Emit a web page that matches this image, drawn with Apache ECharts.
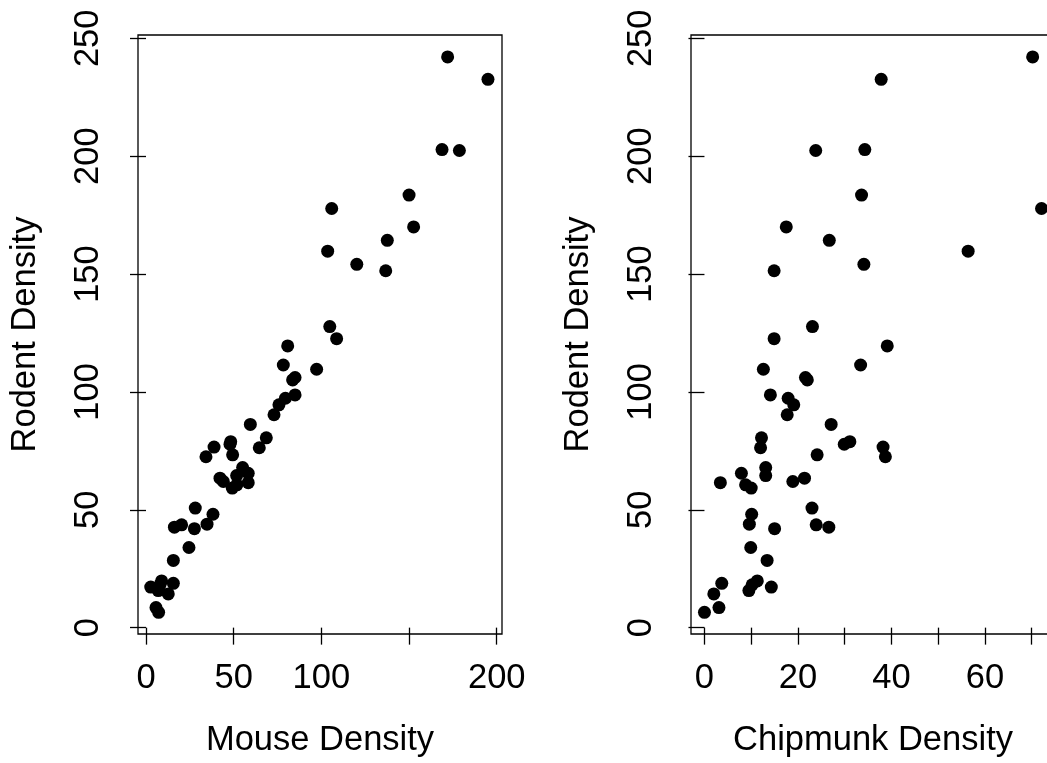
<!DOCTYPE html>
<html>
<head>
<meta charset="utf-8">
<script src="https://cdn.jsdelivr.net/npm/echarts@6/dist/echarts.min.js"></script>
<style>html,body{margin:0;padding:0;background:#fff}#c{width:1047px;height:763px}</style>
</head>
<body>
<div id="c"></div>
<script>
// Values (one entry per site)
const mouse = [172.0,195.0,168.8,178.7,150.0,105.9,152.6,137.6,103.6,120.2,136.7,104.8,108.7,80.8,78.3,97.3,85.0,83.6,85.0,79.5,75.8,73.0,59.5,68.6,64.6,48.3,47.9,38.8,34.2,49.4,55.1,58.3,51.7,42.2,44.1,58.3,51.8,49.2,28.1,38.2,34.8,27.6,20.3,16.2,24.5,15.6,8.9,15.6,8.0,2.7,7.0,12.7,5.7,7.2];
const chipmunk = [70.2,37.8,34.3,23.8,33.6,72.1,17.5,26.7,56.4,34.1,14.9,23.1,14.9,39.1,33.4,12.6,21.6,22.0,14.1,17.9,19.1,17.7,27.1,12.2,12.0,31.1,29.9,38.2,38.7,24.1,13.1,7.9,13.1,21.4,18.9,3.4,8.8,10.0,23.0,10.1,9.6,15.0,23.9,26.6,9.9,13.4,11.3,3.7,10.2,14.3,9.5,2.0,3.1,0.0];
const rodent = [242.1,232.6,202.8,202.4,183.5,177.8,170.0,164.3,159.7,154.1,151.4,127.7,122.6,119.5,111.4,109.6,106.1,105.1,98.7,97.3,94.5,90.3,86.2,80.5,76.3,78.9,77.8,76.6,72.5,73.3,67.9,65.5,64.5,63.4,62.0,61.5,60.6,59.2,50.7,48.1,43.9,42.0,43.6,42.6,34.0,28.5,19.8,18.8,18.2,17.2,15.7,14.3,8.5,6.5];

const mouseTicks = [0,50,100,150,200];
const mouseLabels = [0,50,100,200];
const chipTicks = [0,10,20,30,40,50,60,70];
const chipLabels = [0,20,40,60];
const rodentTicks = [0,50,100,150,200,250];
const rodentLabels = [0,50,100,150,200,250];

const FONT = '"Liberation Sans", Arial, Helvetica, sans-serif';
const FS = 34.5;

function xAx(idx, min, max, ticks, labels, name) {
  return {
    type: 'value', gridIndex: idx, min: min, max: max,
    name: name, nameLocation: 'middle', nameGap: 89,
    nameTextStyle: {fontFamily: FONT, fontSize: FS, color: '#000'},
    splitLine: {show: false},
    axisLine: {show: false},
    axisTick: {show: true, inside: false, length: 17, customValues: ticks,
               lineStyle: {color: '#000', width: 1.3}},
    axisLabel: {show: true, customValues: labels, margin: 27, fontFamily: FONT, fontSize: FS, color: '#000'}
  };
}
function yAx(idx, min, max, name) {
  return {
    type: 'value', gridIndex: idx, min: min, max: max,
    name: name, nameLocation: 'middle', nameGap: 95, nameRotate: 90,
    nameTextStyle: {fontFamily: FONT, fontSize: FS, color: '#000'},
    splitLine: {show: false},
    axisLine: {show: false},
    axisTick: {show: true, inside: false, length: 16, customValues: rodentTicks,
               lineStyle: {color: '#000', width: 1.3}},
    axisLabel: {show: true, customValues: rodentLabels, rotate: 90, align: 'center', verticalAlign: 'bottom',
                margin: 32, fontFamily: FONT, fontSize: FS, color: '#000'}
  };
}

const left = mouse.map((m, i) => [m, rodent[i]]);
const right = chipmunk.map((c, i) => [c, rodent[i]]);

const chart = echarts.init(document.getElementById('c'), null, {renderer: 'canvas'});
chart.setOption({
  backgroundColor: '#fff',
  animation: false,
  grid: [
    {left: 138, top: 35, width: 364, height: 599, show: true, borderColor: '#000', borderWidth: 1.3,
     backgroundColor: 'transparent', containLabel: false, outerBoundsMode: 'none'},
    {left: 691, top: 35, width: 364, height: 599, show: true, borderColor: '#000', borderWidth: 1.3,
     backgroundColor: 'transparent', containLabel: false, outerBoundsMode: 'none'}
  ],
  xAxis: [
    xAx(0, -4.56, 203.0, mouseTicks, mouseLabels, 'Mouse Density'),
    xAx(1, -2.88, 74.98, chipTicks, chipLabels, 'Chipmunk Density')
  ],
  yAxis: [
    yAx(0, -2.7, 251.4, 'Rodent Density'),
    yAx(1, -2.7, 251.4, 'Rodent Density')
  ],
  series: [
    {type: 'scatter', xAxisIndex: 0, yAxisIndex: 0, data: left, symbol: 'circle', symbolSize: 13,
     itemStyle: {color: '#000', opacity: 1}, silent: true},
    {type: 'scatter', xAxisIndex: 1, yAxisIndex: 1, data: right, symbol: 'circle', symbolSize: 13,
     itemStyle: {color: '#000', opacity: 1}, silent: true}
  ]
});
</script>
</body>
</html>
